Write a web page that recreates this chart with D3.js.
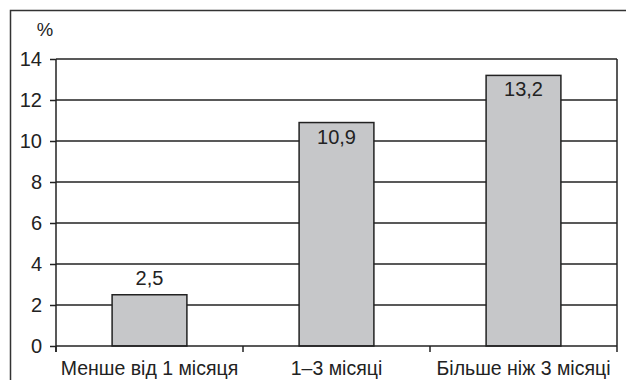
<!DOCTYPE html>
<html>
<head>
<meta charset="utf-8">
<script src="https://cdn.jsdelivr.net/npm/d3@7"></script>
<style>
  html, body { margin: 0; padding: 0; background: #fff; }
  svg { display: block; }
  text { font-family: "Liberation Sans", Arial, sans-serif; fill: #222; }
</style>
</head>
<body>
<svg id="chart" width="626" height="380"></svg>
<script>
// Share of respondents by duration (%)
const categories = ["Менше від 1 місяця", "1–3 місяці", "Більше ніж 3 місяці"];
const values = [2.5, 10.9, 13.2];
const valueLabels = ["2,5", "10,9", "13,2"];
const yTicks = [0, 2, 4, 6, 8, 10, 12, 14];
const unitLabel = "%";

const width = 626, height = 380;
const plot = { left: 56, right: 617, top: 59, bottom: 346 };
const ink = "#222";

const svg = d3.select("#chart");

// outer frame (open at the right and bottom edges of the page)
svg.append("rect")
  .attr("x", 10.5).attr("y", 10.5)
  .attr("width", width + 10).attr("height", height + 10)
  .attr("fill", "none").attr("stroke", "#333").attr("stroke-width", 1.5);

const x = d3.scaleBand()
  .domain(categories)
  .range([plot.left, plot.right])
  .paddingInner(0.6)
  .paddingOuter(0.3);

const y = d3.scaleLinear()
  .domain([0, 14])
  .range([plot.bottom, plot.top]);

// horizontal gridlines
svg.append("g")
  .selectAll("line")
  .data(yTicks.filter(d => d > 0))
  .join("line")
  .attr("x1", plot.left).attr("x2", plot.right)
  .attr("y1", d => y(d)).attr("y2", d => y(d))
  .attr("stroke", ink).attr("stroke-width", 1.5);

// right edge of plot area
svg.append("line")
  .attr("x1", plot.right).attr("x2", plot.right)
  .attr("y1", plot.top).attr("y2", plot.bottom)
  .attr("stroke", ink).attr("stroke-width", 1.5);

// bars
svg.append("g")
  .selectAll("rect")
  .data(values)
  .join("rect")
  .attr("x", (d, i) => x(categories[i]))
  .attr("y", d => y(d))
  .attr("width", x.bandwidth())
  .attr("height", d => y(0) - y(d))
  .attr("fill", "#c6c7c9")
  .attr("stroke", ink)
  .attr("stroke-width", 1.5);

// value labels: inside the top of tall bars, above short ones
svg.append("g")
  .selectAll("text")
  .data(values)
  .join("text")
  .attr("x", (d, i) => x(categories[i]) + x.bandwidth() / 2)
  .attr("y", d => (y(0) - y(d) > 80) ? y(d) + 21 : y(d) - 10)
  .attr("text-anchor", "middle")
  .attr("font-size", 20)
  .text((d, i) => valueLabels[i]);

// y axis
const yAxis = d3.axisLeft(y)
  .tickValues(yTicks)
  .tickSize(6)
  .tickPadding(8)
  .tickFormat(d3.format("d"));
const gy = svg.append("g")
  .attr("transform", `translate(${plot.left},0)`)
  .call(yAxis);
gy.select(".domain").attr("stroke", ink).attr("stroke-width", 1.5)
  .attr("d", `M0,${plot.top}V${plot.bottom + 6}`);
gy.selectAll(".tick line").attr("stroke", ink).attr("stroke-width", 1.5);
gy.selectAll(".tick text")
  .attr("font-size", 20)
  .attr("font-family", "Liberation Sans, Arial, sans-serif")
  .attr("fill", ink);

// x axis: baseline, boundary ticks and category names
const boundaries = [plot.left].concat(categories.map(c => x(c) + x.bandwidth() / 2 + x.step() / 2));
svg.append("line")
  .attr("x1", plot.left).attr("x2", plot.right)
  .attr("y1", y(0)).attr("y2", y(0))
  .attr("stroke", ink).attr("stroke-width", 1.5);
svg.append("g")
  .selectAll("line")
  .data(boundaries)
  .join("line")
  .attr("x1", d => d).attr("x2", d => d)
  .attr("y1", y(0)).attr("y2", y(0) + 6)
  .attr("stroke", ink).attr("stroke-width", 1.5);
svg.append("g")
  .selectAll("text")
  .data(categories)
  .join("text")
  .attr("x", d => x(d) + x.bandwidth() / 2)
  .attr("y", 375)
  .attr("text-anchor", "middle")
  .attr("font-size", 19.5)
  .text(d => d);

// unit label
svg.append("text")
  .attr("x", 45).attr("y", 36)
  .attr("text-anchor", "middle")
  .attr("font-size", 18.5)
  .text(unitLabel);
</script>
</body>
</html>
